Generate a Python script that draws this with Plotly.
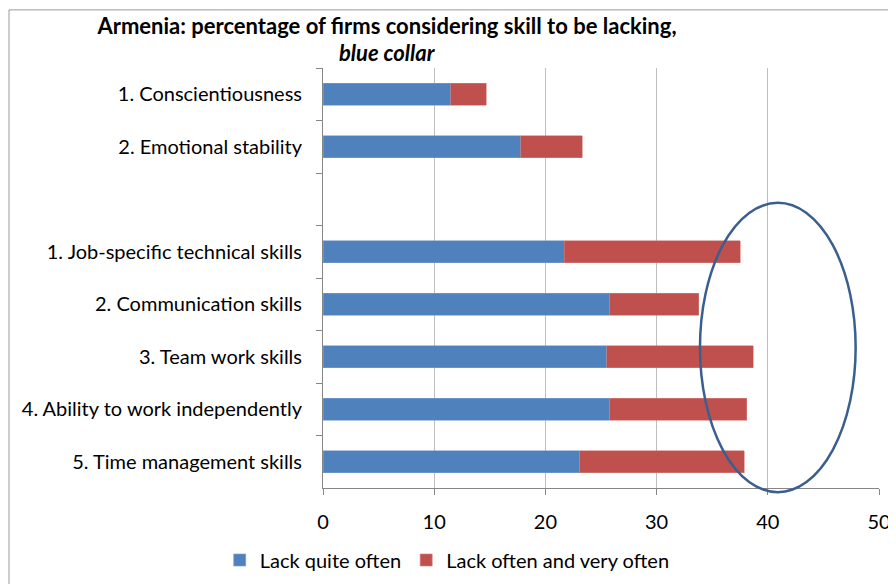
import plotly.graph_objects as go

categories = ["1. Conscientiousness", "2. Emotional stability", " ",
              "1. Job-specific technical skills", "2. Communication skills",
              "3. Team work skills", "4. Ability to work independently",
              "5. Time management skills"]
lack_quite_often = [11.5, 17.8, None, 21.7, 25.8, 25.5, 25.8, 23.1]
lack_often_very_often = [3.2, 5.5, None, 15.8, 8.0, 13.2, 12.3, 14.8]
x_ticks = [0, 10, 20, 30, 40, 50]

FONT = "Lato"

fig = go.Figure()
fig.add_trace(go.Bar(y=categories, x=lack_quite_often, orientation="h",
                     name="Lack quite often",
                     marker=dict(color="#4F81BD", line=dict(color="#7A9FCF", width=0.6))))
fig.add_trace(go.Bar(y=categories, x=lack_often_very_often, orientation="h",
                     name="Lack often and very often",
                     marker=dict(color="#C0504D", line=dict(color="#D27E7B", width=0.6))))

fig.update_layout(
    barmode="stack",
    bargap=0.59,
    width=896, height=584,
    margin=dict(l=315, r=25, t=60, b=97),
    paper_bgcolor="white", plot_bgcolor="white",
    font=dict(family=FONT, size=20, color="#000000"),
    title=dict(text="<b>Armenia: percentage of firms considering skill to be lacking,</b>",
               x=(379 / 896), xanchor="center", yref="container", y=1 - 18 / 584, yanchor="middle",
               font=dict(family=FONT, size=22, color="#000000")),
    showlegend=True,
    legend=dict(orientation="h", x=0.2234, xanchor="center", y=-0.125, yanchor="top",
                font=dict(family=FONT, size=20), traceorder="normal"),
    xaxis=dict(range=[0, 50], tickvals=x_ticks, showgrid=True, gridcolor="#BEBEBE", gridwidth=1,
               showline=True, linecolor="#868686", linewidth=1, ticks="outside", ticklen=6,
               tickcolor="#868686", zeroline=False, ticklabelstandoff=10, automargin=False,
               tickfont=dict(family=FONT, size=20)),
    yaxis=dict(categoryorder="array", categoryarray=categories, autorange="reversed",
               showline=True, linecolor="#868686", linewidth=1, ticks="outside", ticklen=6,
               tickcolor="#868686", tickson="boundaries", showgrid=False, automargin=False,
               ticklabelstandoff=16, tickfont=dict(family=FONT, size=20)),
)

# Second title line
fig.add_annotation(text="<b><i>blue collar</i></b>", xref="paper", yref="paper",
                   x=(379 - 315) / 556, xanchor="center",
                   y=(426.4 + 60 - 44) / 426.4, yanchor="middle", showarrow=False,
                   font=dict(family=FONT, size=22, color="#000000"))

# Ellipse highlight
fig.add_shape(type="circle", xref="x", yref="paper", x0=33.9, x1=47.9, y0=-0.010, y1=0.679,
              line=dict(color="#3A5F8F", width=2.5))
# Outer chart border
fig.add_shape(type="rect", xref="paper", yref="paper",
              x0=(1 - 315) / 556, x1=1.2, y0=-0.5, y1=(426.4 + 60 - 1) / 426.4,
              line=dict(color="#9A9A9A", width=1), layer="below")

fig.write_html("out.html")
